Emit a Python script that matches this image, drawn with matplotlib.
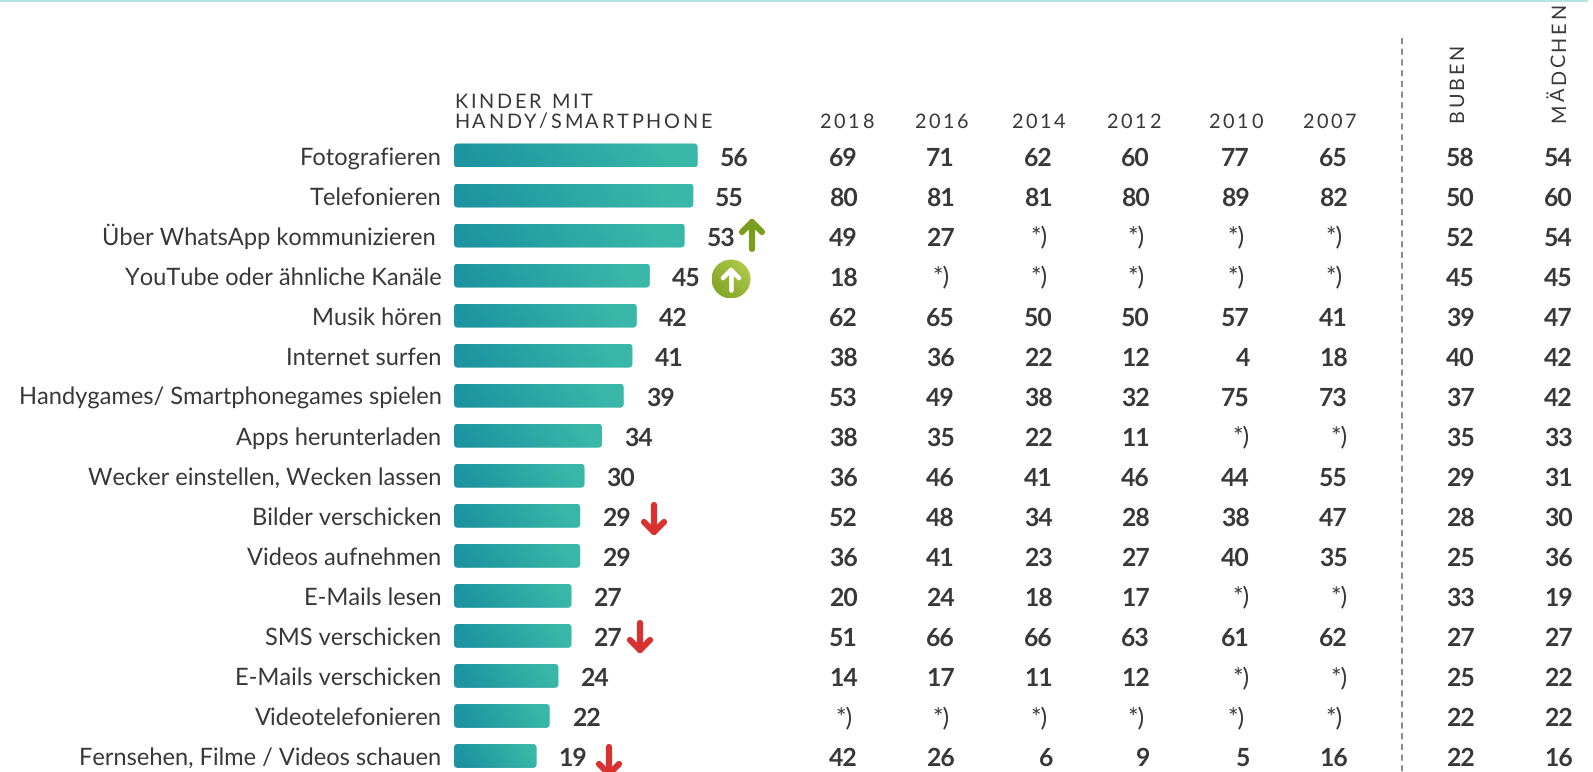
import numpy as np
import matplotlib
matplotlib.use("Agg")
import matplotlib.pyplot as plt
from matplotlib.patches import FancyBboxPatch, Circle

plt.rcParams['font.family'] = ['Lato', 'DejaVu Sans']
plt.rcParams['text.hinting'] = 'no_hinting'

labels = ["Fotografieren", "Telefonieren", "Über WhatsApp kommunizieren ", "YouTube oder ähnliche Kanäle",
          "Musik hören", "Internet surfen", "Handygames/ Smartphonegames spielen", "Apps herunterladen",
          "Wecker einstellen, Wecken lassen", "Bilder verschicken", "Videos aufnehmen", "E-Mails lesen",
          "SMS verschicken", "E-Mails verschicken", "Videotelefonieren", "Fernsehen, Filme / Videos schauen"]
current = [56, 55, 53, 45, 42, 41, 39, 34, 30, 29, 29, 27, 27, 24, 22, 19]

na = "*)"
y2018 = [69, 80, 49, 18, 62, 38, 53, 38, 36, 52, 36, 20, 51, 14, na, 42]
y2016 = [71, 81, 27, na, 65, 36, 49, 35, 46, 48, 41, 24, 66, 17, na, 26]
y2014 = [62, 81, na, na, 50, 22, 38, 22, 41, 34, 23, 18, 66, 11, na, 6]
y2012 = [60, 80, na, na, 50, 12, 32, 11, 46, 28, 27, 17, 63, 12, na, 9]
y2010 = [77, 89, na, na, 57, 4, 75, na, 44, 38, 40, na, 61, na, na, 5]
y2007 = [65, 82, na, na, 41, 18, 73, na, 55, 47, 35, na, 62, na, na, 16]
buben = [58, 50, 52, 45, 39, 40, 37, 35, 29, 28, 25, 33, 27, 25, 22, 22]
maedchen = [54, 60, 54, 45, 47, 42, 42, 33, 31, 30, 36, 19, 27, 22, 22, 16]

columns = [y2018, y2016, y2014, y2012, y2010, y2007, buben, maedchen]
year_labels = ["2018", "2016", "2014", "2012", "2010", "2007"]
year_x = [847, 942, 1039, 1134, 1236, 1330]
col_right = [858, 955, 1053, 1150, 1250, 1348, 1475, 1573]

TEXT = "#38383a"
PX_PER_UNIT = 4.352
BAR_X = 454
ROW0 = 155.5
ROW_STEP = 40.03


def row_y(i):
    return ROW0 + i * ROW_STEP


def spaced_text(ax, x, y, s, size, gap, rotation=0):
    """
    Draw text char by char, matplotlib has no letter spacing
    """
    r = ax.figure.canvas.get_renderer()
    pos = 0
    for ch in s:
        if rotation:
            ax.text(x, y - pos, ch, fontsize=size, color=TEXT, rotation=90, ha="left", va="baseline",
                    rotation_mode="anchor")
        else:
            ax.text(x + pos, y, ch, fontsize=size, color=TEXT, ha="left", va="baseline")
        probe = ax.text(0, 0, "n" + ch + "n", fontsize=size)
        w = probe.get_window_extent(r).width
        probe.set_text("nn")
        w -= probe.get_window_extent(r).width
        probe.remove()
        pos += w + gap


def gradient_bar(ax, x0, y0, w, h):
    grid_x, grid_y = np.meshgrid(np.linspace(0, 1, 60), np.linspace(0, 1, 12))
    t = np.clip(grid_x * 1.15 - grid_y * 0.15 * 60 / w * 2 + 0.02, 0, 1)
    left = np.array([0x1d, 0x94, 0xa0]) / 255
    right = np.array([0x39, 0xb7, 0xa8]) / 255
    rgb = left + (right - left) * t[..., None]
    im = ax.imshow(rgb, extent=(x0, x0 + w, y0 + h, y0), aspect="auto", interpolation="bilinear", zorder=2)
    patch = FancyBboxPatch((x0, y0), w, h, boxstyle="round,pad=0,rounding_size=4", fc="none", ec="none",
                           transform=ax.transData)
    ax.add_patch(patch)
    im.set_clip_path(patch)


def arrow(ax, x, y_top, y_bottom, color, up=True, lw=6.2, head=10):
    tip = y_top if up else y_bottom
    tail = y_bottom if up else y_top
    sign = 1 if up else -1
    ax.plot([x, x], [tail, tip], color=color, lw=lw * 0.72, solid_capstyle="round", zorder=4)
    ax.plot([x - head, x, x + head], [tip + sign * head, tip, tip + sign * head], color=color, lw=lw * 0.72,
            solid_capstyle="round", solid_joinstyle="round", zorder=4)


fig = plt.figure(figsize=(15.93, 7.72), dpi=100)
ax = fig.add_axes([0, 0, 1, 1])
ax.axis("off")

# top rule and dashed separator
ax.plot([0, 1587], [0.5, 0.5], color="#b4e4e2", lw=1.5)
ax.plot([1402, 1402], [38, 772], color="#6a6a6a", lw=1.1, ls=(0, (4, 3)))

# headers
spaced_text(ax, 454, 107.5, "KINDER MIT", 14.3, 2.7)
spaced_text(ax, 454, 127.5, "HANDY/SMARTPHONE", 14.3, 2.7)
for lab, x in zip(year_labels, year_x):
    spaced_text(ax, x - 28, 127.5, lab, 14.3, 2.8)
spaced_text(ax, 1463, 122, "BUBEN", 14.3, 2.8, rotation=90)
spaced_text(ax, 1565, 122, "MÄDCHEN", 14.3, 2.8, rotation=90)

# rows, some *) sit further right in the source
late_rows = [7, 11, 13]
for i, (lab, val) in enumerate(zip(labels, current)):
    y = row_y(i)
    ax.text(441.5, y + 9.2, lab, fontsize=17.05, color=TEXT, ha="right", va="baseline")
    w = val * PX_PER_UNIT
    gradient_bar(ax, BAR_X, y - 12, w, 24)
    ax.text(BAR_X + w + 22, y + 10, str(val), fontsize=17.8, fontweight="bold", color=TEXT, ha="left", va="baseline")
    for j, (col, right) in enumerate(zip(columns, col_right)):
        v = col[i]
        if v == na:
            shift = -5
            if j >= 4 and i in late_rows:
                shift = 0
            ax.text(right + shift, y + 10, v, fontsize=17.8, color=TEXT, ha="right", va="baseline")
        else:
            ax.text(right, y + 10, str(v), fontsize=17.8, fontweight="bold", color=TEXT, ha="right", va="baseline")

# trend markers
arrow(ax, 752, 222, 249, "#7a9f1d", up=True)
arrow(ax, 654, 505, 532, "#d93030", up=False)
arrow(ax, 640, 623, 650, "#d93030", up=False)
arrow(ax, 609, 747, 774, "#d93030", up=False)

# circle marker with gradient
grid_x, grid_y = np.meshgrid(np.linspace(0, 1, 40), np.linspace(0, 1, 40))
t = (grid_x + (1 - grid_y)) / 2
c_low = np.array([0x7c, 0x9f, 0x20]) / 255
c_high = np.array([0xb6, 0xd0, 0x50]) / 255
im = ax.imshow(c_low + (c_high - c_low) * t[..., None], extent=(711.5, 750.5, 298.5, 259.5), aspect="auto",
               interpolation="bilinear", zorder=3)
circ = Circle((731, 279), 19.5, fc="none", ec="none", transform=ax.transData)
ax.add_patch(circ)
im.set_clip_path(circ)
arrow(ax, 731, 270, 290, "white", up=True, lw=4.6, head=8)

ax.set_xlim(0, 1593)
ax.set_ylim(772, 0)
fig.savefig("out.png", dpi=100)
